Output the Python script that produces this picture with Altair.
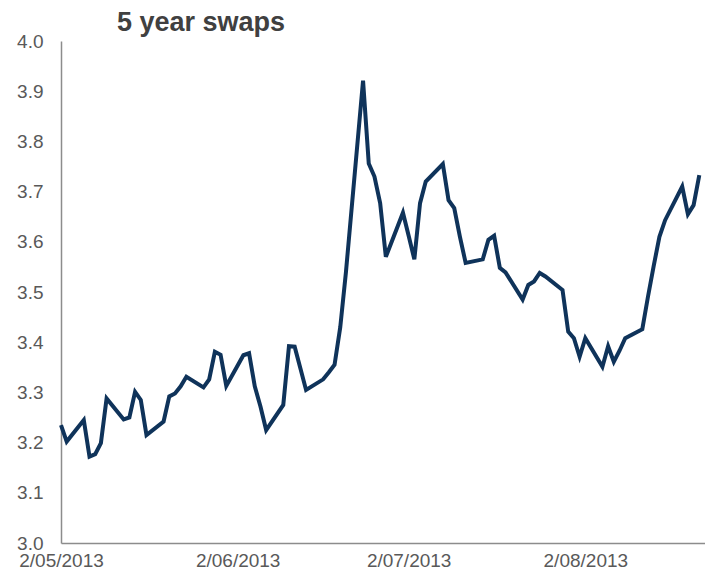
import altair as alt
import pandas as pd

dates = [
    "2013-05-02", "2013-05-03", "2013-05-06", "2013-05-07", "2013-05-08", "2013-05-09", "2013-05-10",
    "2013-05-13", "2013-05-14", "2013-05-15", "2013-05-16", "2013-05-17",
    "2013-05-20", "2013-05-21", "2013-05-22", "2013-05-23", "2013-05-24",
    "2013-05-27", "2013-05-28", "2013-05-29", "2013-05-30", "2013-05-31",
    "2013-06-03", "2013-06-04", "2013-06-05", "2013-06-06", "2013-06-07",
    "2013-06-10", "2013-06-11", "2013-06-12", "2013-06-13", "2013-06-14",
    "2013-06-17", "2013-06-18", "2013-06-19", "2013-06-20", "2013-06-21",
    "2013-06-24", "2013-06-25", "2013-06-26", "2013-06-27", "2013-06-28",
    "2013-07-01", "2013-07-02", "2013-07-03", "2013-07-04", "2013-07-05",
    "2013-07-08", "2013-07-09", "2013-07-10", "2013-07-11", "2013-07-12",
    "2013-07-15", "2013-07-16", "2013-07-17", "2013-07-18", "2013-07-19",
    "2013-07-22", "2013-07-23", "2013-07-24", "2013-07-25", "2013-07-26",
    "2013-07-29", "2013-07-30", "2013-07-31", "2013-08-01", "2013-08-02",
    "2013-08-05", "2013-08-06", "2013-08-07", "2013-08-08", "2013-08-09",
    "2013-08-12", "2013-08-13", "2013-08-14", "2013-08-15", "2013-08-16",
    "2013-08-19", "2013-08-20", "2013-08-21", "2013-08-22",
]

swaps = [
    3.235, 3.202, 3.245, 3.172, 3.177, 3.199, 3.288,
    3.246, 3.250, 3.301, 3.285, 3.215,
    3.242, 3.292, 3.298, 3.312, 3.331,
    3.310, 3.326, 3.381, 3.375, 3.313,
    3.374, 3.378, 3.312, 3.272, 3.225,
    3.275, 3.392, 3.391, 3.348, 3.305,
    3.326, 3.340, 3.355, 3.430, 3.540,
    3.921, 3.756, 3.730, 3.677, 3.570,
    3.658, 3.612, 3.565, 3.677, 3.720,
    3.755, 3.683, 3.667, 3.610, 3.558,
    3.565, 3.604, 3.612, 3.548, 3.539,
    3.485, 3.514, 3.521, 3.538, 3.531,
    3.504, 3.421, 3.408, 3.371, 3.408,
    3.351, 3.392, 3.361, 3.383, 3.408,
    3.426, 3.491, 3.552, 3.610, 3.643,
    3.710, 3.655, 3.673, 3.733,
]

y_ticks = [3.0, 3.1, 3.2, 3.3, 3.4, 3.5, 3.6, 3.7, 3.8, 3.9, 4.0]
x_tick_dates = [(2013, 5, 2), (2013, 6, 2), (2013, 7, 2), (2013, 8, 2)]
x_domain = [(2013, 5, 2), (2013, 8, 23)]

df = pd.DataFrame({"date": dates, "value": swaps})

FONT = "Liberation Sans"
LABEL_COLOR = "#595959"
AXIS_COLOR = "#8c8c8c"

chart = (
    alt.Chart(df)
    .mark_line(color="#0F335A", strokeWidth=4, strokeJoin="miter")
    .encode(
        x=alt.X(
            "date:T",
            scale=alt.Scale(
                type="utc",
                domain=[alt.DateTime(year=y, month=m, date=d, utc=True) for (y, m, d) in x_domain],
                nice=False,
            ),
            axis=alt.Axis(
                title=None,
                values=[alt.DateTime(year=y, month=m, date=d, utc=True) for (y, m, d) in x_tick_dates],
                labelExpr="utcFormat(datum.value, '%-d/%m/%Y')",
                labelFlush=False,
                labelOverlap=False,
                ticks=False,
                tickSize=0,
                grid=False,
                labelPadding=8,
                labelFont=FONT,
                labelFontSize=19,
                labelColor=LABEL_COLOR,
                domainColor=AXIS_COLOR,
                domainWidth=1.5,
            ),
        ),
        y=alt.Y(
            "value:Q",
            scale=alt.Scale(domain=[3.0, 4.0], nice=False, zero=False),
            axis=alt.Axis(
                title=None,
                values=y_ticks,
                format=".1f",
                ticks=False,
                tickSize=0,
                grid=False,
                labelPadding=18,
                labelFont=FONT,
                labelFontSize=19,
                labelColor=LABEL_COLOR,
                domainColor=AXIS_COLOR,
                domainWidth=1.5,
                labelFlush=False,
                labelOverlap=False,
            ),
        ),
    )
    .properties(
        width=644,
        height=502,
        background="white",
        title=alt.TitleParams(
            text="5 year swaps",
            anchor="start",
            frame="group",
            dx=56,
            dy=14,
            offset=9,
            font=FONT,
            fontSize=27,
            fontWeight="bold",
            color="#404040",
        ),
        autosize=alt.AutoSizeParams(type="none"),
        padding={"left": 53, "top": 33, "right": 0, "bottom": 26},
    )
    .configure_view(strokeWidth=0, strokeOpacity=0, stroke="transparent")
    .configure_axis(grid=False)
)

chart.save("out.html", embed_options={"renderer": "svg", "actions": False})
